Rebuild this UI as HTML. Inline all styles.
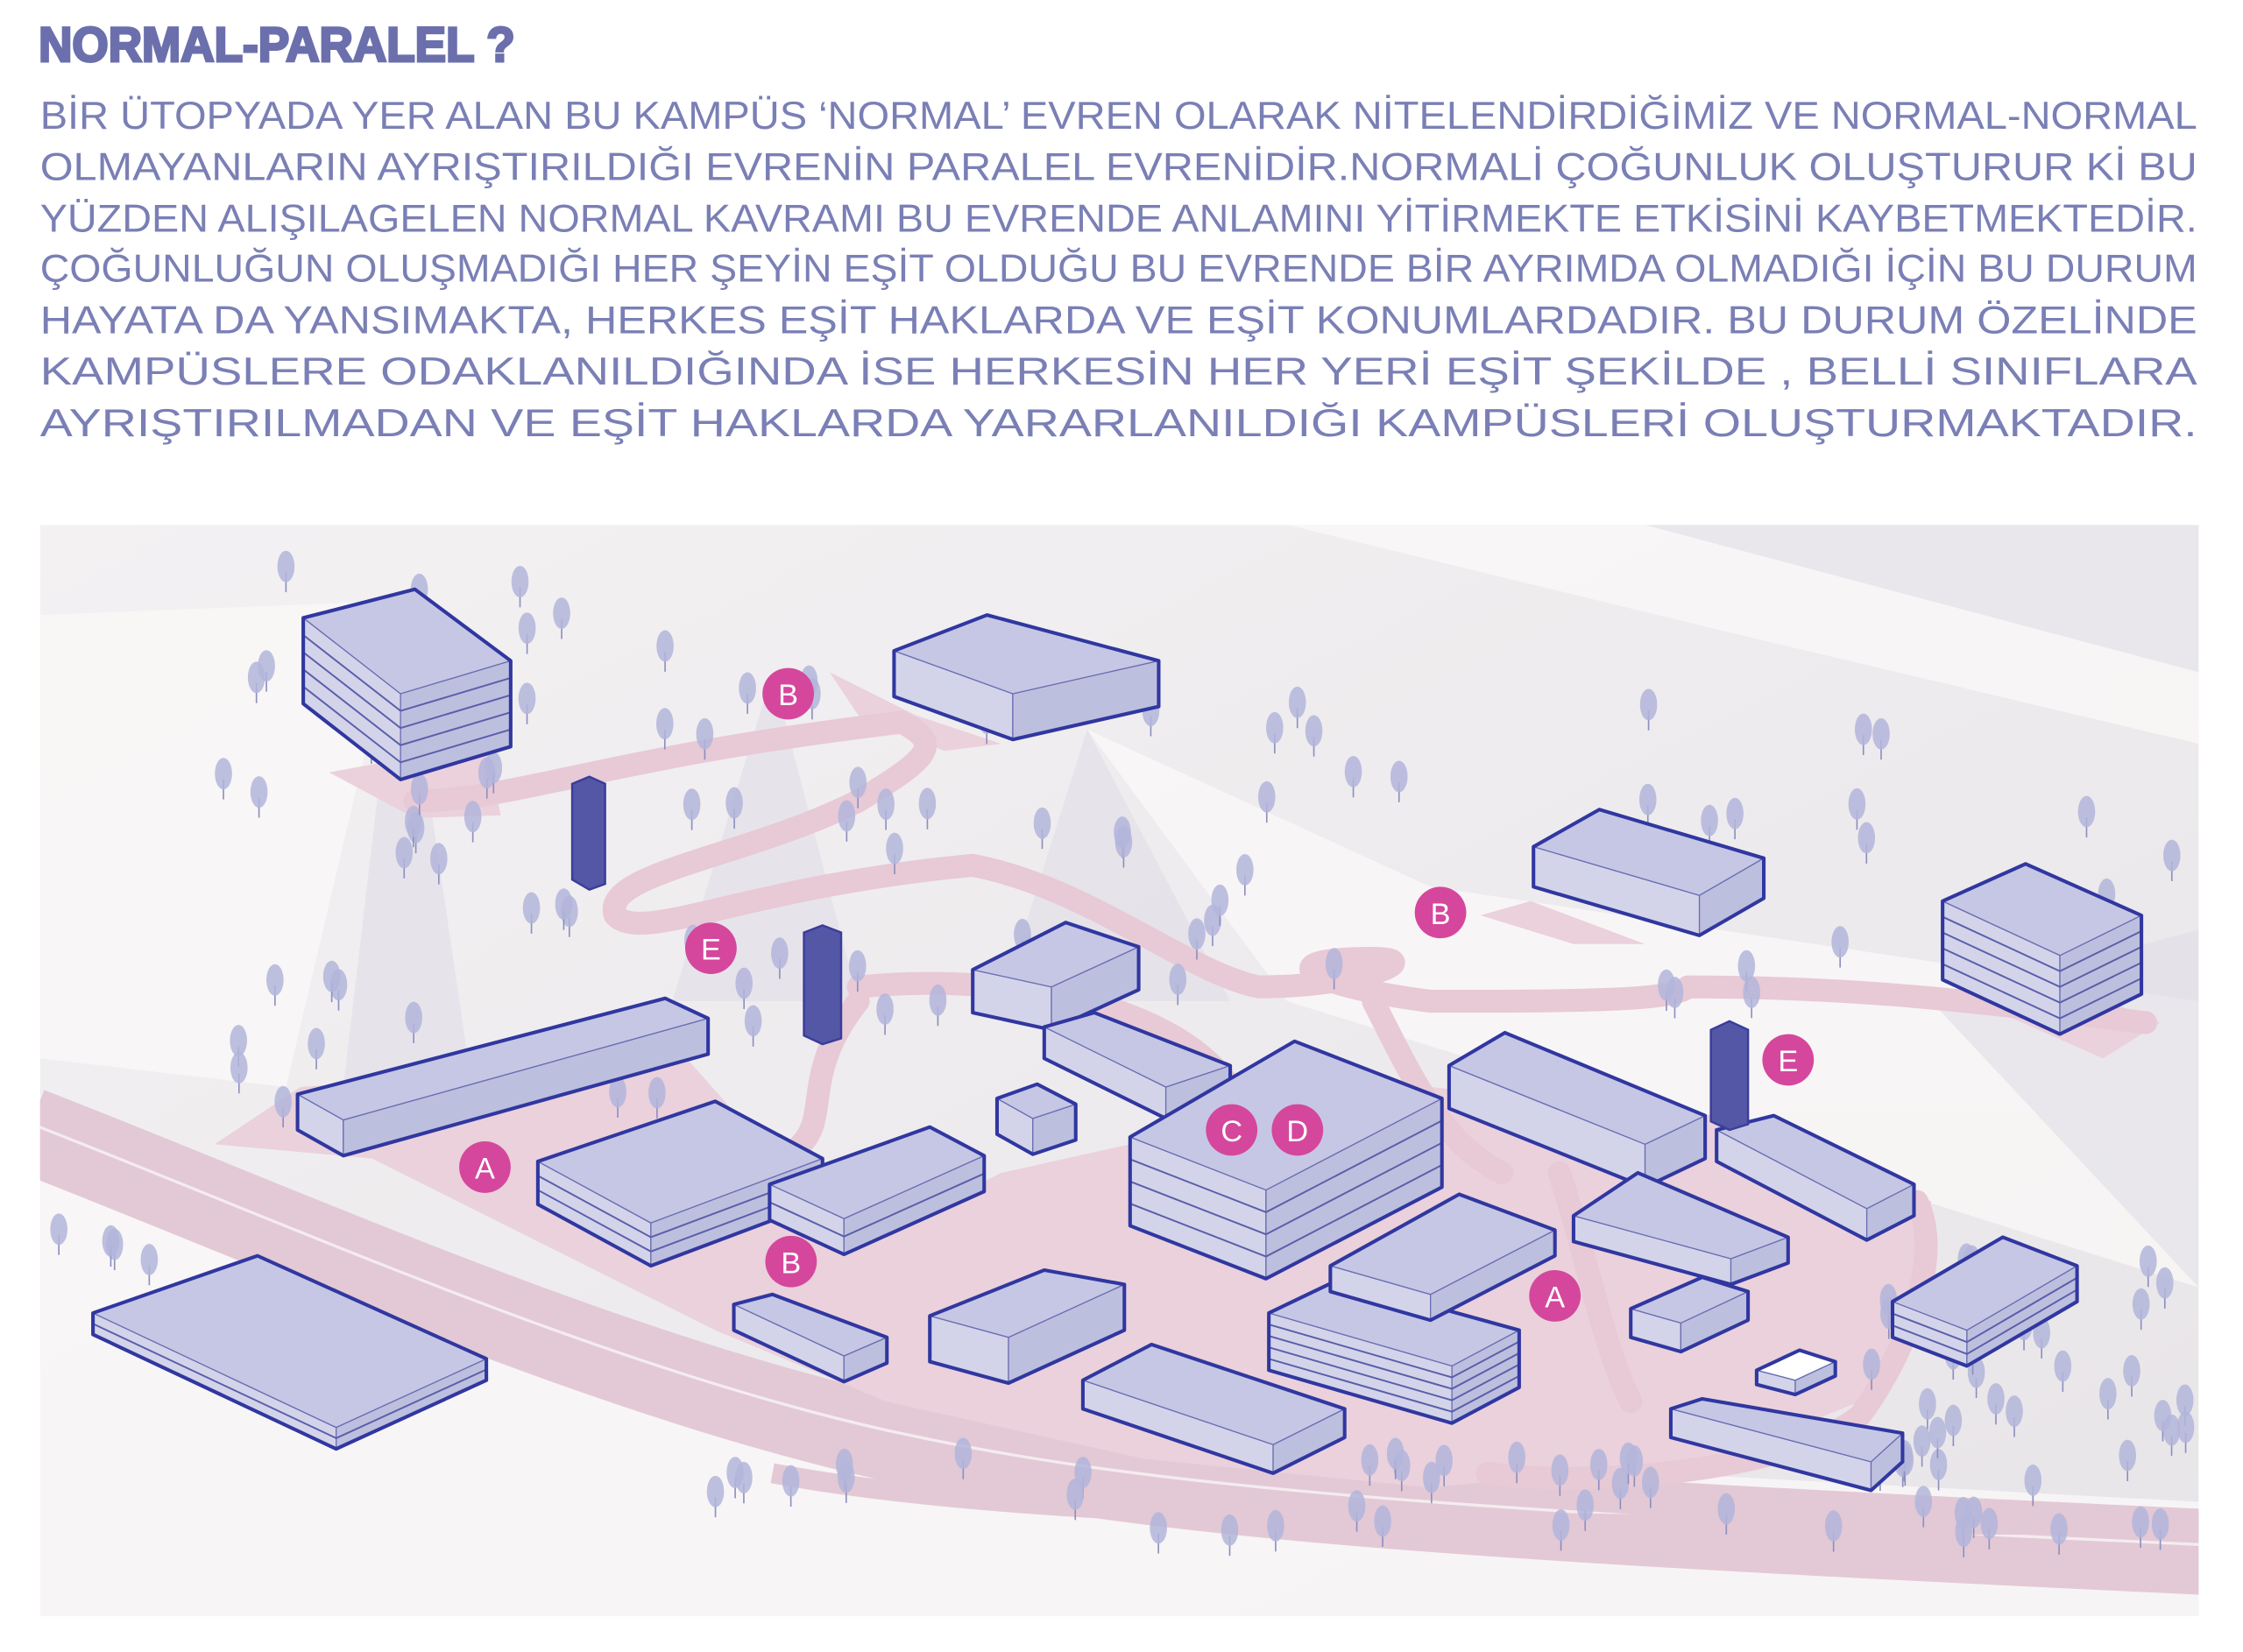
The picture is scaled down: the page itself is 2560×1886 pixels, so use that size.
<!DOCTYPE html>
<html><head><meta charset="utf-8">
<style>
html,body{margin:0;padding:0;background:#fff;}
svg{display:block;}
</style></head>
<body>
<svg id="s" width="2560" height="1886" viewBox="0 0 1568 1155" preserveAspectRatio="none" xmlns="http://www.w3.org/2000/svg">
<defs>
<clipPath id="mc"><rect x="28" y="367" width="1509" height="763"/></clipPath>
<linearGradient id="bg" x1="0" y1="0" x2="1" y2="1">
<stop offset="0" stop-color="#f3f1f2"/><stop offset="1" stop-color="#e8e5e9"/></linearGradient>
</defs>
<text x="27" y="43" font-family="Liberation Sans, sans-serif" font-weight="bold" font-size="34" fill="#6b6fac" textLength="333" lengthAdjust="spacingAndGlyphs" stroke="#6b6fac" stroke-width="1.8">NORMAL-PARALEL ?</text>
<g font-family="Liberation Sans, sans-serif" font-size="27" fill="#7a7fb5">
<text x="28" y="90" textLength="1508" lengthAdjust="spacingAndGlyphs">BİR ÜTOPYADA YER ALAN BU KAMPÜS ‘NORMAL’ EVREN OLARAK NİTELENDİRDİĞİMİZ VE NORMAL-NORMAL</text>
<text x="28" y="126" textLength="1508" lengthAdjust="spacingAndGlyphs">OLMAYANLARIN  AYRIŞTIRILDIĞI  EVRENİN  PARALEL  EVRENİDİR.NORMALİ  ÇOĞUNLUK  OLUŞTURUR  Kİ  BU</text>
<text x="28" y="162" textLength="1508" lengthAdjust="spacingAndGlyphs">YÜZDEN  ALIŞILAGELEN NORMAL KAVRAMI BU EVRENDE ANLAMINI YİTİRMEKTE ETKİSİNİ KAYBETMEKTEDİR.</text>
<text x="28" y="197" textLength="1508" lengthAdjust="spacingAndGlyphs">ÇOĞUNLUĞUN OLUŞMADIĞI HER ŞEYİN EŞİT OLDUĞU BU EVRENDE BİR AYRIMDA OLMADIĞI İÇİN BU DURUM</text>
<text x="28" y="233" textLength="1508" lengthAdjust="spacingAndGlyphs">HAYATA  DA  YANSIMAKTA,  HERKES  EŞİT  HAKLARDA  VE  EŞİT  KONUMLARDADIR.  BU  DURUM  ÖZELİNDE</text>
<text x="28" y="269" textLength="1508" lengthAdjust="spacingAndGlyphs">KAMPÜSLERE    ODAKLANILDIĞINDA    İSE    HERKESİN    HER    YERİ    EŞİT    ŞEKİLDE    ,    BELLİ    SINIFLARA</text>
<text x="28" y="305" textLength="1508" lengthAdjust="spacingAndGlyphs">AYRIŞTIRILMADAN       VE       EŞİT       HAKLARDA       YARARLANILDIĞI       KAMPÜSLERİ       OLUŞTURMAKTADIR.</text>
</g>
<g clip-path="url(#mc)" id="map">
<rect x="28" y="367" width="1509" height="763" fill="url(#bg)"/>
<g fill="#faf8f7" opacity="0.8">
<polygon points="28,430 280,420 200,760 28,740"/>
<polygon points="28,820 600,1000 1537,1050 1537,1130 28,1130"/>
<polygon points="760,510 1000,620 1537,700 1537,900 900,700"/>
<polygon points="900,367 1537,367 1537,520 1200,440"/>
</g>
<g fill="#dfdde6" opacity="0.6">
<polygon points="1150,367 1537,367 1537,470"/>
<polygon points="280,420 240,760 330,760"/>
<polygon points="760,510 700,700 860,700"/>
<polygon points="540,470 470,700 600,700"/>
<polygon points="1350,700 1537,650 1537,900"/>
</g>
<path d="M20,790 C200,860 420,960 620,1005 C800,1045 1000,1060 1540,1085" fill="none" stroke="#e3c9d5" stroke-width="60"/>
<path d="M20,785 C200,855 420,955 620,1000 C800,1040 1000,1055 1540,1080" fill="none" stroke="#f4ecef" stroke-width="2"/>
<path d="M540,1030 C700,1060 1000,1070 1540,1065" fill="none" stroke="#e3c9d5" stroke-width="14"/>
<g fill="#ead1dc">
<polygon points="150,800 210,760 480,740 560,830 600,870 700,820 790,800 1000,760 1200,780 1350,840 1350,900 1300,980 1200,1020 1000,1040 800,1020 620,980 500,930 380,870 260,810"/>
<polygon points="230,540 340,520 350,570 290,572"/>
<polygon points="1035,640 1070,630 1150,660 1100,660"/>
<polygon points="1380,700 1450,690 1510,715 1470,740"/>
<polygon points="580,470 640,500 700,520 660,525 600,500"/>
</g>
<g fill="none" stroke="#e8c9d6" stroke-width="16" stroke-linecap="round" stroke-linejoin="round">
<path d="M290,560 C360,560 420,530 630,505 C660,520 650,530 600,560 C520,600 420,610 430,640 C450,660 520,620 680,605 C760,620 830,680 880,690 C950,690 1000,670 960,670 C880,670 920,690 1000,700 C1100,700 1170,700 1180,690 C1300,690 1380,700 1500,715"/>
<path d="M600,700 C560,750 580,780 560,800"/>
<path d="M600,690 C700,680 820,700 860,760"/>
<path d="M960,700 C990,760 1010,800 1050,820"/>
<path d="M1340,840 C1360,880 1330,950 1300,990 C1250,1030 1100,1040 1040,1030"/>
<path d="M1090,820 C1110,880 1120,940 1140,980"/>
</g>
<g id="trees"></g>
<g id="blds"></g>
<g fill="#5457a6" stroke="#3a3d9a" stroke-width="1.5">
<polygon points="400,548 412,543 423,548 423,618 412,622 400,615"/>
<polygon points="562,652 575,647 588,652 588,726 575,730 562,724"/>
<polygon points="1196,720 1209,714 1222,720 1222,786 1209,790 1196,784"/>
</g>
<g fill="#d5479c">
<circle cx="551" cy="485" r="18"/><circle cx="1007" cy="638" r="18"/><circle cx="497" cy="663" r="18"/>
<circle cx="1250" cy="741" r="18"/><circle cx="339" cy="816" r="18"/><circle cx="861" cy="790" r="18"/>
<circle cx="907" cy="790" r="18"/><circle cx="553" cy="882" r="18"/><circle cx="1087" cy="906" r="18"/>
</g>
<g fill="#fff" font-family="Liberation Sans, sans-serif" font-size="21" text-anchor="middle">
<text x="551" y="493">B</text><text x="1007" y="646">B</text><text x="497" y="671">E</text>
<text x="1250" y="749">E</text><text x="339" y="824">A</text><text x="861" y="798">C</text>
<text x="907" y="798">D</text><text x="553" y="890">B</text><text x="1087" y="914">A</text>
</g>
</g>
</svg>
<script>
var NS="http://www.w3.org/2000/svg";
// L, T(back), R, F(front), height, white, floors
var B=[
[212,432,290,412,357,462,280,485,60,0,5],
[625,455,690,430,810,462,708,485,32,0,1],
[1072,592,1118,566,1233,600,1188,626,28,0,1],
[1358,630,1416,604,1497,640,1440,668,55,0,5],
[680,678,745,645,796,662,735,690,30,0,1],
[208,765,465,698,495,712,240,783,25,0,1],
[376,812,500,770,575,810,455,855,30,0,3],
[538,828,650,788,688,808,590,852,25,0,2],
[697,768,725,758,752,772,722,782,25,0,1],
[730,718,765,708,860,745,815,760,22,0,1],
[790,795,905,728,1008,768,885,832,62,0,4],
[1013,745,1052,722,1192,780,1150,800,30,0,1],
[1200,790,1240,780,1338,828,1305,845,22,0,1],
[65,918,180,878,340,950,235,998,15,0,2],
[513,912,540,905,620,935,590,948,18,0,1],
[650,920,730,888,786,898,705,935,32,0,1],
[757,965,805,940,940,985,890,1010,20,0,1],
[887,918,935,895,1062,930,1015,955,40,0,5],
[930,885,1020,835,1087,860,1000,905,18,0,1],
[1100,850,1145,820,1250,865,1210,880,18,0,1],
[1140,915,1190,893,1222,903,1175,925,20,0,1],
[1228,958,1258,944,1283,952,1255,965,10,1,1],
[1168,985,1190,978,1330,1002,1308,1022,20,0,1],
[1323,910,1400,865,1452,885,1375,930,25,0,3]];
function mk(tag,attrs,parent){var e=document.createElementNS(NS,tag);for(var k in attrs)e.setAttribute(k,attrs[k]);parent.appendChild(e);return e;}
function p(a){return a.map(function(q){return q[0]+","+q[1]}).join(" ")}
var g=document.getElementById("blds");
B.forEach(function(b){var H=b[8],w=b[9],fl=b[10]||1;
var L=[b[0],b[1]],T=[b[2],b[3]],R=[b[4],b[5]],F=[b[6],b[7]];
mk("polygon",{fill:"#d3d4ea",stroke:"#6a6db2","stroke-width":"0.8",points:p([L,F,[F[0],F[1]+H],[L[0],L[1]+H]])},g);
mk("polygon",{fill:"#bdbfde",stroke:"#6a6db2","stroke-width":"0.8",points:p([F,R,[R[0],R[1]+H],[F[0],F[1]+H]])},g);
for(var i=1;i<fl;i++){var d=H*i/fl;
mk("polyline",{fill:"none",stroke:"#5a5eaa","stroke-width":"1.2",points:p([[L[0],L[1]+d],[F[0],F[1]+d],[R[0],R[1]+d]])},g);}
mk("polygon",{fill:(w?"#ffffff":"#c6c7e4"),stroke:"#6a6db2","stroke-width":"0.8",points:p([L,T,R,F])},g);
mk("polygon",{fill:"none",stroke:"#3037a0","stroke-width":"2.5","stroke-linejoin":"round",points:p([L,T,R,[R[0],R[1]+H],[F[0],F[1]+H],[L[0],L[1]+H]])},g);
});
var s=7;function rnd(){s=(s*9301+49297)%233280;return s/233280;}
var tg=document.getElementById("trees");
var zones=[[140,380,480,780,40],[480,480,1000,720,35],[850,480,1537,700,25],[1300,880,1537,1080,40],[30,840,120,900,4],[500,1020,1537,1075,35]];
zones.forEach(function(z){for(var i=0;i<z[4];i++){var x=z[0]+rnd()*(z[2]-z[0]),y=z[1]+rnd()*(z[3]-z[1]);
mk("line",{x1:x,y1:y,x2:x,y2:y+14,stroke:"#8c8fc0","stroke-width":"1"},tg);
mk("ellipse",{cx:x,cy:y-4,rx:6,ry:11,fill:"#b3b5da",opacity:"0.85"},tg);}});
</script>
</body></html>
